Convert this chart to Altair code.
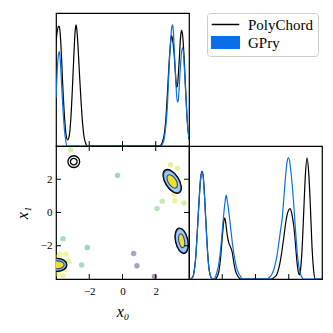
import altair as alt
import pandas as pd

# ---------------- data ----------------
ticks = [-2, 0, 2]
methods = ["PolyChord", "GPry"]

# 1D marginal of x0 (normalised heights)
pc_x0_x = [-4.0, -3.95, -3.9, -3.85, -3.8, -3.75, -3.7, -3.65, -3.6, -3.5, -3.4, -3.3, -3.2, -3.1, -3.0,
           -2.9, -2.85, -2.8, -2.75, -2.7, -2.6, -2.5, -2.4, -2.3, -2.2, -2.1,
           2.2, 2.3, 2.4, 2.5, 2.6, 2.7, 2.8, 2.9, 2.95, 3.0, 3.1, 3.2, 3.25, 3.3, 3.4, 3.5, 3.55, 3.6,
           3.7, 3.8, 3.9, 4.0]
pc_x0_y = [0.77, 0.84, 0.88, 0.90, 0.90, 0.85, 0.75, 0.62, 0.47, 0.24, 0.09, 0.045, 0.08, 0.22, 0.47,
           0.75, 0.86, 0.91, 0.88, 0.80, 0.57, 0.35, 0.17, 0.06, 0.015, 0.0,
           0.0, 0.005, 0.03, 0.08, 0.19, 0.39, 0.62, 0.79, 0.83, 0.81, 0.70, 0.52, 0.44, 0.45, 0.62, 0.83,
           0.87, 0.85, 0.68, 0.42, 0.18, 0.05]
gp_x0_x = [-4.0, -3.95, -3.9, -3.85, -3.8, -3.75, -3.7, -3.6, -3.5, -3.4, -3.35,
           2.3, 2.4, 2.5, 2.6, 2.7, 2.8, 2.9, 2.95, 3.0, 3.05, 3.1, 3.2, 3.3, 3.35, 3.4, 3.5, 3.6,
           3.65, 3.7, 3.8, 3.9, 4.0]
gp_x0_y = [0.36, 0.50, 0.62, 0.69, 0.71, 0.66, 0.55, 0.32, 0.13, 0.03, 0.0,
           0.0, 0.015, 0.05, 0.14, 0.30, 0.58, 0.80, 0.88, 0.91, 0.88, 0.76, 0.50, 0.33, 0.34, 0.42,
           0.63, 0.74, 0.72, 0.63, 0.40, 0.18, 0.06]

# 1D marginal of x1
pc_x1_x = [-4.0, -3.8, -3.7, -3.6, -3.5, -3.4, -3.3, -3.22, -3.15, -3.1, -3.0, -2.9, -2.8, -2.7, -2.6,
           -2.4, -2.3, -2.2, -2.1, -2.0, -1.9, -1.85, -1.8, -1.7, -1.6, -1.5, -1.4, -1.3, -1.2, -1.1,
           -1.0, -0.9, 1.0, 1.1, 1.2, 1.3, 1.4, 1.5, 1.6, 1.7, 1.8, 1.9, 2.0, 2.08, 2.15, 2.2, 2.3,
           2.4, 2.5, 2.6, 2.65, 2.7, 2.8, 2.9, 3.0, 3.1, 3.2, 3.3, 3.4, 3.5, 3.6, 4.0]
pc_x1_y = [0.0, 0.01, 0.05, 0.16, 0.36, 0.58, 0.76, 0.81, 0.78, 0.70, 0.47, 0.24, 0.08, 0.02, 0.0,
           0.0, 0.02, 0.06, 0.16, 0.31, 0.44, 0.46, 0.43, 0.33, 0.27, 0.24, 0.20, 0.12, 0.06, 0.03,
           0.01, 0.0, 0.0, 0.01, 0.02, 0.04, 0.08, 0.14, 0.22, 0.31, 0.41, 0.48, 0.52, 0.53, 0.51,
           0.48, 0.40, 0.27, 0.12, 0.04, 0.03, 0.06, 0.22, 0.50, 0.78, 0.91, 0.80, 0.55, 0.24, 0.06,
           0.0, 0.0]
gp_x1_x = [-4.0, -3.8, -3.7, -3.6, -3.5, -3.4, -3.3, -3.22, -3.15, -3.1, -3.0, -2.9, -2.8, -2.7, -2.6,
           -2.5, -2.4, -2.3, -2.2, -2.1, -2.0, -1.9, -1.8, -1.76, -1.7, -1.6, -1.5, -1.4, -1.3, -1.2,
           -1.1, -1.0, -0.9, -0.8, 0.7, 0.8, 0.9, 1.0, 1.1, 1.2, 1.3, 1.4, 1.5, 1.6, 1.7, 1.8, 1.9,
           1.98, 2.05, 2.1, 2.2, 2.3, 2.4, 2.5, 2.6, 2.7, 2.8, 2.9, 4.0]
gp_x1_y = [0.0, 0.01, 0.05, 0.15, 0.35, 0.57, 0.75, 0.80, 0.77, 0.69, 0.46, 0.23, 0.08, 0.02, 0.0,
           0.0, 0.02, 0.06, 0.12, 0.22, 0.36, 0.50, 0.61, 0.63, 0.59, 0.50, 0.39, 0.28, 0.19, 0.12,
           0.07, 0.04, 0.02, 0.0, 0.0, 0.01, 0.02, 0.04, 0.07, 0.12, 0.18, 0.27, 0.36, 0.45, 0.60,
           0.76, 0.88, 0.91, 0.89, 0.84, 0.72, 0.56, 0.38, 0.21, 0.10, 0.04, 0.01, 0.0, 0.0]

# GPry samples (x0, x1, relative log-posterior for colour)
samp_x0 = [-3.13, 2.89, 3.30, 2.39, 2.08, 3.10, 3.15, 3.70, -0.30, 0.67, 0.87, 1.92, -3.58, -2.12,
           -2.46, -3.78, -3.41, -3.27, -3.58, -3.88, -3.62, -3.95, -3.45, 2.85, 3.05, 3.50, 3.62]
samp_x1 = [3.76, 2.87, 2.66, 0.67, 0.24, 1.10, 0.70, 0.57, 2.23, -2.47, -3.20, -3.85, -1.58, -2.11,
           -3.16, -2.51, -2.51, -2.91, -3.80, -3.70, -3.05, -2.70, -3.45, 2.20, 1.75, -1.50, -1.95]
samp_v = [0.86, 0.90, 0.92, 0.80, 0.72, 0.95, 0.95, 0.86, 0.60, 0.15, 0.12, 0.02, 0.66, 0.58,
          0.64, 0.96, 0.96, 0.94, 0.95, 0.96, 1.0, 1.0, 1.0, 1.0, 1.0, 1.0, 1.0]

# centres of the 2D posterior modes
mode_x0 = [2.99, 3.56, -3.93, -2.93]
mode_x1 = [1.87, -1.70, -3.15, 3.06]

# ---------------- styling ----------------
BLUE = "#0a6fe8"
FONT = "Liberation Serif"
W = 133
H = 133

sx = alt.Scale(domain=[-4, 4], nice=False, zero=False)
sy = alt.Scale(domain=[-4, 4], nice=False, zero=False)
sm = alt.Scale(domain=[0, 1], nice=False, zero=False)

tick_df = pd.DataFrame({"t": ticks})


def line_layer(xv, yv, color):
    d = pd.DataFrame({"a": xv, "b": yv})
    return alt.Chart(d).mark_line(color=color, strokeWidth=1.2, interpolate="monotone", clip=True).encode(
        x=alt.X("a:Q", scale=sx, axis=None), y=alt.Y("b:Q", scale=sm, axis=None))


def xticks_bottom():
    return alt.Chart(tick_df).mark_rule(color="black", strokeWidth=1).encode(
        x=alt.X("t:Q", scale=sx, axis=None), y=alt.value(H), y2=alt.value(H - 5))


# top-left: x0 marginal (with the legend)
legend_df = pd.DataFrame({"a": [10, 10], "b": [0.5, 0.5], "method": methods})
leg = alt.Legend(orient="none", legendX=151, legendY=0, title=None, labelFont=FONT, labelFontSize=15,
                 symbolSize=144, symbolStrokeWidth=1.5, symbolOffset=7, padding=4, rowPadding=0,
                 labelOffset=15, strokeColor="#cccccc", cornerRadius=3, fillColor="white",
                 symbolOpacity=1, labelColor="black")
legend_layer = alt.Chart(legend_df).mark_point(filled=True, clip=True, opacity=1, strokeWidth=1.5).encode(
    x=alt.X("a:Q", scale=sx, axis=None), y=alt.Y("b:Q", scale=sm, axis=None),
    fill=alt.Fill("method:N", scale=alt.Scale(domain=methods, range=["black", BLUE]), legend=leg),
    stroke=alt.Stroke("method:N", scale=alt.Scale(domain=methods, range=["black", BLUE]), legend=leg),
    shape=alt.Shape("method:N", scale=alt.Scale(domain=methods,
                                                range=["M-2.3,0H2.3", "M-2.3,-0.97H2.3V0.97H-2.3Z"]),
                    legend=leg),
)
top_left = alt.layer(
    line_layer(pc_x0_x, pc_x0_y, "black"),
    line_layer(gp_x0_x, gp_x0_y, BLUE),
    xticks_bottom(),
    legend_layer,
).properties(width=W, height=H)

# bottom-right: x1 marginal
x1_axis = alt.Axis(values=ticks, title="x₁", ticks=False, tickSize=0, domain=False, grid=False,
                   labelPadding=6, titlePadding=7)
right = alt.layer(
    alt.Chart(pd.DataFrame({"a": pc_x1_x, "b": pc_x1_y})).mark_line(
        color="black", strokeWidth=1.2, interpolate="monotone", clip=True).encode(
        x=alt.X("a:Q", scale=sx, axis=x1_axis), y=alt.Y("b:Q", scale=sm, axis=None)),
    alt.Chart(pd.DataFrame({"a": gp_x1_x, "b": gp_x1_y})).mark_line(
        color=BLUE, strokeWidth=1.2, interpolate="monotone", clip=True).encode(
        x=alt.X("a:Q", scale=sx, axis=x1_axis), y=alt.Y("b:Q", scale=sm, axis=None)),
    xticks_bottom(),
).properties(width=W, height=H)


# 2D panel
def ellipse(r):
    return f"M0,-1A{r},1 0 1,1 0,1A{r},1 0 1,1 0,-1Z"


def blob(i, r, size, angle, fill=None, stroke="black", sw=1.1):
    d = pd.DataFrame({"x0": [mode_x0[i]], "x1": [mode_x1[i]]})
    if fill is None:
        m = alt.Chart(d).mark_point(shape=ellipse(r), size=size, angle=angle, filled=False, color=stroke,
                                    strokeWidth=sw, opacity=1, clip=True)
    else:
        m = alt.Chart(d).mark_point(shape=ellipse(r), size=size, angle=angle, filled=True, fill=fill,
                                    stroke=stroke, strokeWidth=sw, opacity=1, fillOpacity=1, clip=True)
    return m.encode(x=alt.X("x0:Q", scale=sx), y=alt.Y("x1:Q", scale=sy))


LIGHT = "#a3c6ef"
NAVY = "#1d4f8f"
YEL = "#f3df2a"

x0_axis = alt.Axis(values=ticks, title="x₀", ticks=False, tickSize=0, domain=False, grid=False,
                   labelPadding=6, titlePadding=7)
y1_axis = alt.Axis(values=ticks, title="x₁", ticks=False, tickSize=0, domain=False, grid=False,
                   labelPadding=4, titlePadding=10)

scatter = alt.Chart(pd.DataFrame({"x0": samp_x0, "x1": samp_x1, "v": samp_v})).mark_circle(
    size=30, opacity=0.45, clip=True).encode(
    x=alt.X("x0:Q", scale=sx, axis=x0_axis),
    y=alt.Y("x1:Q", scale=sy, axis=y1_axis),
    color=alt.Color("v:Q", scale=alt.Scale(scheme="viridis", domain=[0, 1]), legend=None),
)

tk = lambda: alt.Chart(tick_df).mark_rule(color="black", strokeWidth=1)
two_d = alt.layer(
    scatter,
    # GPry filled contours
    blob(0, 0.52, 635, 328, fill=LIGHT, stroke=NAVY),
    blob(0, 0.53, 225, 328, fill=YEL, stroke=NAVY),
    blob(1, 0.48, 595, 348, fill=LIGHT, stroke=NAVY),
    blob(1, 0.41, 196, 348, fill=YEL, stroke=NAVY),
    blob(2, 0.67, 339, 90, fill=LIGHT, stroke=NAVY),
    blob(2, 0.57, 196, 90, fill=YEL, stroke=NAVY),
    # PolyChord contour lines
    blob(0, 0.52, 720, 328),
    blob(1, 0.48, 680, 348),
    blob(2, 0.67, 390, 90),
    blob(3, 1.0, 139, 0, sw=1.3),
    blob(3, 1.0, 44, 0, sw=1.3),
    # inward ticks on all four sides
    tk().encode(x=alt.X("t:Q", scale=sx), y=alt.value(H), y2=alt.value(H - 5)),
    tk().encode(x=alt.X("t:Q", scale=sx), y=alt.value(0), y2=alt.value(5)),
    tk().encode(y=alt.Y("t:Q", scale=sy), x=alt.value(0), x2=alt.value(5)),
    tk().encode(y=alt.Y("t:Q", scale=sy), x=alt.value(W), x2=alt.value(W - 5)),
).properties(width=W, height=H)

chart = alt.vconcat(
    top_left,
    alt.hconcat(two_d, right, spacing=0, bounds="flush"),
    spacing=0,
    bounds="flush",
).resolve_scale(fill="independent", stroke="independent", shape="independent", color="independent").properties(
    padding={"left": 5, "top": 3, "right": 0, "bottom": 0}, background="white"
).configure_view(stroke="black", strokeWidth=1.2).configure_axis(
    labelFont=FONT, labelFontSize=11, labelColor="black", titleFont=FONT, titleFontSize=16,
    titleFontStyle="italic", titleFontWeight="normal", titleColor="black"
)

chart.save("out.html", embed_options={"renderer": "svg", "actions": False})
